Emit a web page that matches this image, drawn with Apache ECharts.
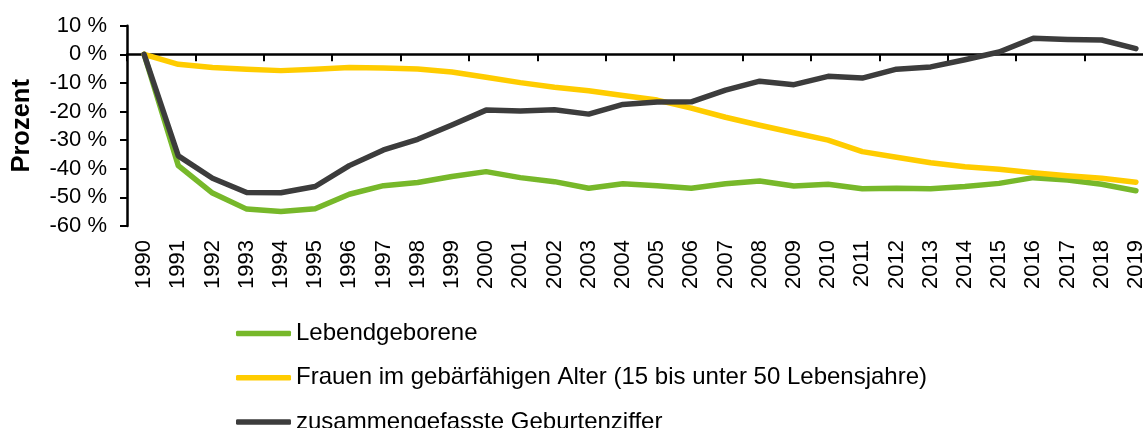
<!DOCTYPE html>
<html>
<head>
<meta charset="utf-8">
<title>Lebendgeborene, Frauen, Geburtenziffer</title>
<script src="https://cdn.jsdelivr.net/npm/echarts@6/dist/echarts.min.js"></script>
<style>
	html, body { margin: 0; padding: 0; background: #fff; }
	#chart { width: 1143px; height: 428px; }
</style>
</head>
<body>
<div id="chart"></div>
<script>
// Jahre
var years = ['1990', '1991', '1992', '1993', '1994', '1995', '1996', '1997', '1998', '1999',
	'2000', '2001', '2002', '2003', '2004', '2005', '2006', '2007', '2008', '2009',
	'2010', '2011', '2012', '2013', '2014', '2015', '2016', '2017', '2018', '2019'];

// Veraenderung gegenueber 1990 in %
var lebendgeborene = [0, -38.9, -48.5, -54.1, -54.9, -54.0, -48.9, -45.9, -44.8, -42.7,
	-41.0, -43.1, -44.5, -46.8, -45.2, -45.9, -46.8, -45.2, -44.3, -46.0,
	-45.4, -47.0, -46.8, -47.0, -46.2, -45.1, -43.1, -43.9, -45.4, -47.7];

var frauen = [0, -3.5, -4.6, -5.2, -5.7, -5.2, -4.6, -4.8, -5.1, -6.2,
	-8.0, -9.9, -11.5, -12.7, -14.4, -16.0, -18.8, -22.0, -24.8, -27.4,
	-30.0, -34.0, -36.0, -37.9, -39.3, -40.2, -41.4, -42.4, -43.3, -44.7];

var geburtenziffer = [0, -35.5, -43.3, -48.3, -48.4, -46.2, -38.9, -33.4, -29.7, -24.7,
	-19.5, -19.8, -19.4, -20.9, -17.5, -16.7, -16.6, -12.5, -9.4, -10.6,
	-7.7, -8.3, -5.2, -4.4, -1.9, 0.8, 5.6, 5.2, 5.0, 2.0];

var seriesNames = ['Lebendgeborene',
	'Frauen im gebärfähigen Alter (15 bis unter 50 Lebensjahre)',
	'zusammengefasste Geburtenziffer'];

var colors = ['#77b82a', '#ffcc00', '#3c3c3c'];

var FONT = 'Liberation Sans, Arial, sans-serif';

function lineSeries(name, data, color) {
	return {
		name: name,
		type: 'line',
		data: data,
		xAxisIndex: 0,
		symbol: 'none',
		smooth: false,
		animation: false,
		color: color,
		lineStyle: { color: color, width: 5.5, cap: 'round', join: 'round' }
	};
}

var chart = echarts.init(document.getElementById('chart'));

chart.setOption({
	backgroundColor: '#fff',
	animation: false,
	grid: {
		left: 127,
		right: -10,
		top: 25.7,
		bottom: 202,
		containLabel: false,
		outerBoundsMode: 'none'
	},
	legend: {
		orient: 'vertical',
		left: 236,
		top: 321.5,
		height: 150,
		padding: 0,
		itemWidth: 55,
		itemHeight: 5.5,
		itemGap: 20.3,
		icon: 'roundRect',
		itemStyle: { borderWidth: 0 },
		textStyle: { fontFamily: FONT, fontSize: 24, lineHeight: 22, color: '#000' },
		data: seriesNames.map(function (n, i) {
			return { name: n, itemStyle: { color: colors[i] } };
		})
	},
	xAxis: [
		{
			// Nulllinie mit Teilstrichen
			type: 'category',
			data: years,
			boundaryGap: true,
			position: 'bottom',
			axisLine: { show: true, onZero: true, lineStyle: { color: '#000', width: 2.5 } },
			axisTick: { show: true, length: 7, inside: false, lineStyle: { color: '#000', width: 2 } },
			axisLabel: { show: false },
			splitLine: { show: false }
		},
		{
			// Jahresbeschriftung unten
			type: 'category',
			data: years,
			boundaryGap: true,
			position: 'bottom',
			axisLine: { show: false, onZero: false },
			axisTick: { show: false },
			axisLabel: {
				show: true,
				interval: 0,
				rotate: 90,
				margin: 14,
				fontFamily: FONT,
				fontSize: 22,
				color: '#000'
			},
			splitLine: { show: false }
		}
	],
	yAxis: {
		type: 'value',
		min: -60,
		max: 10,
		interval: 10,
		name: 'Prozent',
		nameLocation: 'middle',
		nameGap: 92,
		nameTextStyle: { fontFamily: FONT, fontSize: 25.5, fontWeight: 'bold', color: '#000' },
		axisLine: { show: true, lineStyle: { color: '#000', width: 2.5 } },
		axisTick: { show: true, length: 7, lineStyle: { color: '#000', width: 2 } },
		axisLabel: {
			formatter: '{value} %',
			margin: 20,
			fontFamily: FONT,
			fontSize: 22,
			color: '#000'
		},
		splitLine: { show: false }
	},
	series: [
		lineSeries(seriesNames[0], lebendgeborene, colors[0]),
		lineSeries(seriesNames[1], frauen, colors[1]),
		lineSeries(seriesNames[2], geburtenziffer, colors[2])
	]
});
</script>
</body>
</html>
